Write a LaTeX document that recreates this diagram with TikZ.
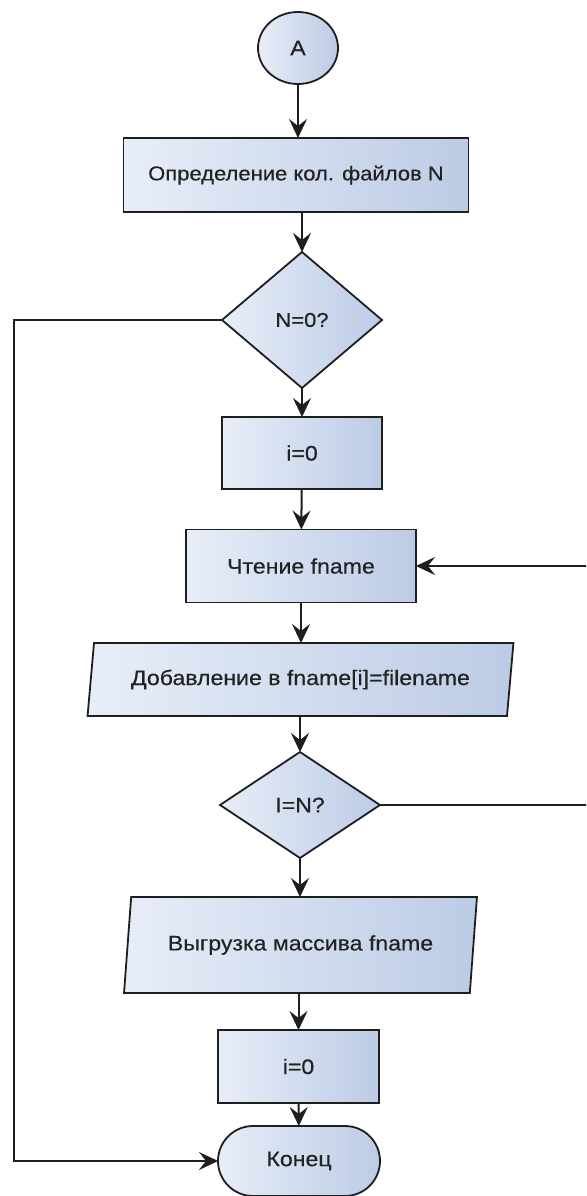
\documentclass[tikz,border=0pt]{standalone}
\usepackage{fontspec}
\setmainfont{Liberation Sans}
\newfontfamily\boxfont[FakeStretch=1.1,FakeBold=0.4]{Liberation Sans}
\usetikzlibrary{shapes.geometric,shapes.misc,arrows.meta}

\definecolor{fillLight}{HTML}{E8EEF8}
\definecolor{fillDark}{HTML}{BCCBE5}
\definecolor{inkLine}{HTML}{1E1E1E}
\definecolor{inkText}{HTML}{222222}

\tikzset{
  block/.style={draw=inkLine, line width=1.8pt, left color=fillLight, right color=fillDark,
    text=inkText, font=\boxfont\fontsize{21}{24}\selectfont, inner sep=0pt, outer sep=0pt},
  procbox/.style={block, rectangle},
  decision/.style={block, diamond},
  iobox/.style={block, trapezium, trapezium stretches=true},
  terminal/.style={block, rounded rectangle},
  connector/.style={draw=inkLine, line width=2pt, -{Stealth[length=19pt,width=18pt,inset=7pt]}},
}

\begin{document}
\begin{tikzpicture}[x=1pt,y=-1pt]
  \useasboundingbox (0,0) rectangle (586,1196);
  \fill[white] (0,0) rectangle (586,1196);
  \clip (0,0) rectangle (586,1196);

  % flowchart blocks
  \node[block, ellipse, minimum width=80pt, minimum height=72pt] (A) at (298,48) {A};
  \node[procbox, minimum width=345pt, minimum height=74pt,
        font=\boxfont\fontsize{20}{24}\selectfont] (count) at (296,175) {Определение кол. файлов N};
  \node[decision, minimum width=160pt, minimum height=136pt,
        font=\boxfont\fontsize{20}{24}\selectfont] (zero) at (302,320) {N=0?};
  \node[procbox, minimum width=160pt, minimum height=72pt] (init) at (302,453) {i=0};
  \node[procbox, minimum width=230pt, minimum height=73pt] (read) at (301,566) {Чтение fname};
  \node[iobox, trapezium left angle=75, trapezium right angle=105,
        minimum width=427pt, minimum height=73pt] (add) at (300.5,679.5) {Добавление в fname[i]=filename};
  \node[decision, minimum width=160pt, minimum height=106pt] (last) at (300,805) {I=N?};
  \node[iobox, trapezium left angle=74, trapezium right angle=106,
        minimum width=353pt, minimum height=96pt] (dump) at (300.5,945) {Выгрузка массива fname};
  \node[procbox, minimum width=161pt, minimum height=73pt] (reset) at (298.5,1066.5) {i=0};
  \node[terminal, minimum width=162pt, minimum height=70pt] (stop) at (299,1161) {Конец};

  % turning points of the two loops
  \coordinate (loopL) at (14,320);
  \coordinate (loopR) at (594,805);

  % connectors
  \draw[connector] (A) -- (A |- count.north);
  \draw[connector] (zero.north |- count.south) -- (zero.north);
  \draw[connector] (zero) -- (init);
  \draw[connector] (init) -- (read);
  \draw[connector] (read.south) -- (read.south |- add.north);
  \draw[connector] (last.north |- add.south) -- (last.north);
  \draw[connector] (last) -- (last.south |- dump.north);
  \draw[connector] (dump.south -| reset.north) -- (reset.north);
  \draw[connector] (reset) -- (stop);
  \draw[connector] (zero.west) -- (loopL) |- (stop.west);
  \draw[connector] (last.east) -- (loopR) |- (read.east);
\end{tikzpicture}
\end{document}
